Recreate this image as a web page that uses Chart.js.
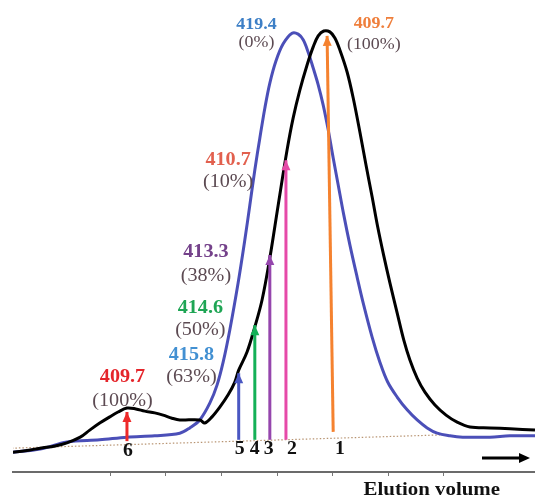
<!DOCTYPE html>
<html>
<head>
<meta charset="utf-8">
<script src="https://cdn.jsdelivr.net/npm/chart.js@4/dist/chart.umd.min.js"></script>
<style>
  html, body { margin: 0; padding: 0; background: #fff; }
  #wrap { width: 535px; height: 501px; }
</style>
</head>
<body>
<div id="wrap"><canvas id="elution"></canvas></div>
<script>
// elution volume (arbitrary units) and absorbance
var blackX = [0.25,0.47,0.74,1.01,1.22,1.46,1.63,1.81,1.99,2.14,2.30,2.46,2.62,2.80,2.95,3.11,3.25,3.61,3.70,3.83,3.97,4.12,4.24,4.31,4.46,4.60,4.73,4.87,5.02,5.18,5.29,5.41,5.54,5.65,5.74,5.84,5.95,6.04,6.13,6.26,6.37,6.49,6.60,6.71,6.81,6.92,7.03,7.16,7.28,7.39,7.52,7.66,7.84,8.04,8.24,8.47,8.83,9.19,9.64];
var blackY = [0.045,0.048,0.054,0.059,0.066,0.079,0.095,0.111,0.125,0.136,0.145,0.143,0.138,0.134,0.129,0.122,0.118,0.118,0.111,0.125,0.147,0.175,0.204,0.231,0.272,0.329,0.390,0.485,0.605,0.730,0.803,0.866,0.923,0.964,0.989,1.000,0.998,0.984,0.957,0.907,0.848,0.771,0.696,0.624,0.556,0.490,0.429,0.361,0.299,0.254,0.213,0.181,0.152,0.129,0.113,0.102,0.100,0.098,0.095];

var blueX = [0.25,0.74,1.22,1.81,2.30,2.80,3.25,3.43,3.61,3.79,3.92,4.03,4.15,4.30,4.42,4.51,4.60,4.69,4.78,4.87,4.98,5.11,5.27,5.38,5.47,5.56,5.65,5.74,5.83,5.92,6.01,6.10,6.20,6.31,6.44,6.55,6.71,6.85,6.99,7.16,7.34,7.52,7.70,7.88,8.11,8.34,8.83,9.19,9.64];
var blueY = [0.045,0.052,0.068,0.073,0.079,0.082,0.088,0.100,0.118,0.156,0.197,0.249,0.322,0.429,0.526,0.605,0.685,0.757,0.825,0.882,0.932,0.971,0.995,0.993,0.980,0.952,0.916,0.878,0.832,0.776,0.712,0.651,0.583,0.515,0.442,0.383,0.306,0.249,0.204,0.170,0.141,0.118,0.100,0.088,0.082,0.079,0.079,0.082,0.082];

// baseline drawn under the peaks
var baseX = [0.23, 7.93];
var baseY = [0.054, 0.084];

// fractions marked with arrows
var fractions = ['1','2','3','4','5','6'];
var arrowBaseX = [6.01, 5.16, 4.87, 4.60, 4.31, 2.30];
var arrowTipX  = [5.90, 5.16, 4.87, 4.60, 4.31, 2.30];
var arrowBaseY = [0.091, 0.073, 0.073, 0.073, 0.073, 0.070];
var arrowTipY  = [0.989, 0.707, 0.492, 0.333, 0.224, 0.136];
var fractionLabelX = [6.13, 5.27, 4.85, 4.60, 4.33, 2.32];

// Soret maximum (nm) and % of form
var peakNm  = ['419.4','409.7','410.7','413.3','414.6','415.8','409.7'];
var peakPct = ['(0%)','(100%)','(10%)','(38%)','(50%)','(63%)','(100%)'];

var arrowColors = ['#f5822f','#e64aa8','#9546ad','#14b057','#4a57c2','#ee2a2a'];
var nmColors = ['#3d7fc6','#ef7f3c','#e2604e','#74418a','#1ea554','#4290d2','#e5252b'];
var pctColor = '#5c4a52';
// where each label pair sits (x, y of value line, y of percent line, size)
var labelPos = [
  [4.63, 1.014, 0.973, 16],
  [6.74, 1.016, 0.968, 16],
  [4.12, 0.707, 0.658, 18],
  [3.72, 0.499, 0.444, 18],
  [3.62, 0.372, 0.322, 18],
  [3.46, 0.265, 0.215, 18],
  [2.22, 0.215, 0.161, 18]
];

function pts(xs, ys) {
  var out = [];
  for (var i = 0; i < xs.length; i++) out.push({x: xs[i], y: ys[i]});
  return out;
}

var datasets = [];
for (var i = 0; i < fractions.length; i++) {
  datasets.push({
    label: 'fraction ' + fractions[i],
    data: [{x: arrowBaseX[i], y: arrowBaseY[i]}, {x: arrowTipX[i], y: arrowTipY[i]}],
    borderColor: arrowColors[i],
    borderWidth: 3,
    pointRadius: 0,
    tension: 0,
    order: 0,
    isArrow: true
  });
}
datasets.push({
  label: 'black', data: pts(blackX, blackY), borderColor: '#000', borderWidth: 3,
  pointRadius: 0, tension: 0.35, order: 1
});
datasets.push({
  label: 'blue', data: pts(blueX, blueY), borderColor: '#4b4fb8', borderWidth: 3,
  pointRadius: 0, tension: 0.35, order: 2
});
datasets.push({
  label: 'baseline', data: pts(baseX, baseY), borderColor: '#b89472', borderWidth: 1.2,
  borderDash: [1.5, 2], pointRadius: 0, tension: 0, order: 3
});

function stretchText(ctx, txt, x, y, sx) {
  ctx.save();
  ctx.translate(x, y);
  ctx.scale(sx, 1);
  ctx.fillText(txt, 0, 0);
  ctx.restore();
}

var decor = {
  id: 'decor',
  afterDatasetsDraw: function(chart) {
    var ctx = chart.ctx, xs = chart.scales.x, ys = chart.scales.y, ca = chart.chartArea;
    ctx.save();
    // arrow heads
    chart.data.datasets.forEach(function(ds, di) {
      if (!ds.isArrow) return;
      var m = chart.getDatasetMeta(di);
      var a = m.data[0], b = m.data[1];
      var ang = Math.atan2(b.y - a.y, b.x - a.x);
      var L = 10, W = 4.5;
      ctx.fillStyle = ds.borderColor;
      ctx.beginPath();
      ctx.moveTo(b.x, b.y);
      ctx.lineTo(b.x - L * Math.cos(ang) + W * Math.sin(ang), b.y - L * Math.sin(ang) - W * Math.cos(ang));
      ctx.lineTo(b.x - L * Math.cos(ang) - W * Math.sin(ang), b.y - L * Math.sin(ang) + W * Math.cos(ang));
      ctx.closePath();
      ctx.fill();
    });
    // fraction numbers
    ctx.fillStyle = '#111';
    ctx.textAlign = 'center';
    ctx.textBaseline = 'middle';
    ctx.font = 'bold 18px "Liberation Serif", serif';
    for (var i = 0; i < fractions.length; i++) {
      var fy = i === 5 ? 0.050 : 0.054;
      stretchText(ctx, fractions[i], xs.getPixelForValue(fractionLabelX[i]), ys.getPixelForValue(fy) + 1, 1.1);
    }
    // value labels
    for (var k = 0; k < peakNm.length; k++) {
      var p = labelPos[k];
      var px = xs.getPixelForValue(p[0]);
      ctx.fillStyle = nmColors[k];
      ctx.font = 'bold ' + p[3] + 'px "Liberation Serif", serif';
      stretchText(ctx, peakNm[k], px, ys.getPixelForValue(p[1]), 1.12);
      ctx.fillStyle = pctColor;
      ctx.font = p[3] + 'px "Liberation Serif", serif';
      stretchText(ctx, peakPct[k], px, ys.getPixelForValue(p[2]), 1.12);
    }
    // direction arrow and axis title
    var ay = ca.bottom - 14;
    var x0 = ca.right - 53, x1 = ca.right - 5;
    ctx.strokeStyle = '#000';
    ctx.lineWidth = 3;
    ctx.beginPath();
    ctx.moveTo(x0, ay);
    ctx.lineTo(x1 - 8, ay);
    ctx.stroke();
    ctx.fillStyle = '#000';
    ctx.beginPath();
    ctx.moveTo(x1, ay);
    ctx.lineTo(x1 - 11, ay - 5);
    ctx.lineTo(x1 - 11, ay + 5);
    ctx.closePath();
    ctx.fill();
    ctx.fillStyle = '#111';
    ctx.font = 'bold 19px "Liberation Serif", serif';
    ctx.textAlign = 'right';
    ctx.save();
    ctx.translate(ca.right - 35, ca.bottom + 18);
    ctx.scale(1.1, 1);
    ctx.fillText('Elution volume', 0, 0);
    ctx.restore();
    ctx.restore();
  }
};

var ctx = document.getElementById('elution');
var elutionChart = new Chart(ctx, {
  type: 'line',
  data: { datasets: datasets },
  options: {
    responsive: true,
    maintainAspectRatio: false,
    animation: false,
    layout: { padding: { left: 13, right: 0, top: 0, bottom: 25 } },
    plugins: { legend: { display: false }, tooltip: { enabled: false } },
    scales: {
      x: {
        type: 'linear',
        min: 0.25,
        max: 9.64,
        border: { display: true, color: '#6b6b6b', width: 2 },
        grid: { drawOnChartArea: false, drawTicks: true, tickLength: 4, color: '#777', lineWidth: 1 },
        ticks: { display: false, stepSize: 1 },
        afterBuildTicks: function(scale) {
          scale.ticks = scale.ticks.filter(function(t) { return Number.isInteger(t.value); });
        }
      },
      y: { display: false, min: 0, max: 1.0703 }
    }
  },
  plugins: [decor]
});
</script>
</body>
</html>
